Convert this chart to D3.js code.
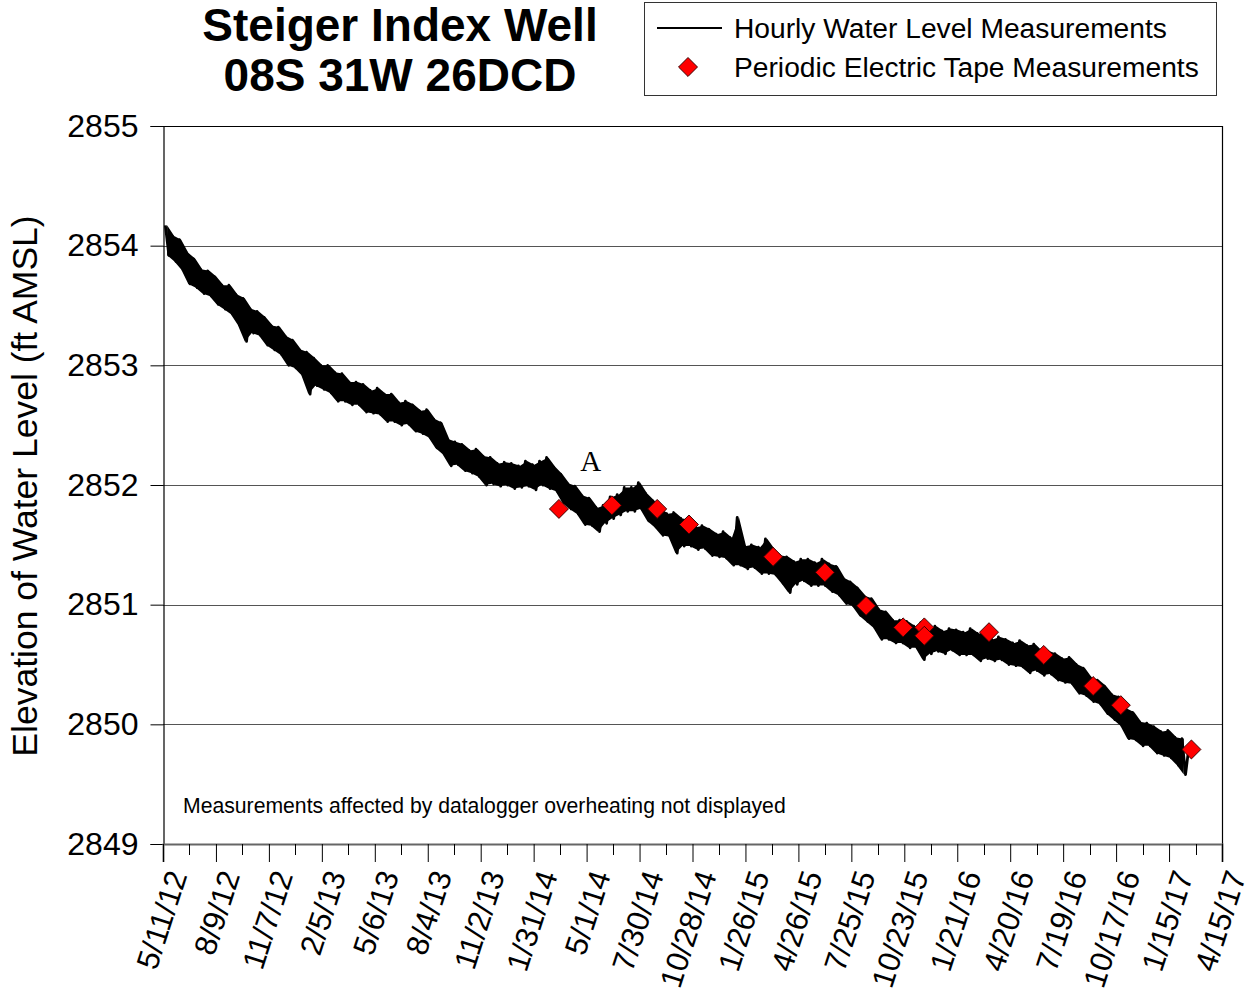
<!DOCTYPE html>
<html>
<head>
<meta charset="utf-8">
<script src="https://cdn.jsdelivr.net/npm/d3@7/dist/d3.min.js"></script>
<style>
  html, body { margin: 0; padding: 0; background: #fff; }
  svg { display: block; }
  text { font-family: "Liberation Sans", Arial, sans-serif; }
</style>
</head>
<body>
<svg id="chart" width="1253" height="997"></svg>
<script>
// ---------------- DATA ----------------
const titleLines = ["Steiger Index Well", "08S 31W 26DCD"];
const yTitle = "Elevation of Water Level (ft AMSL)";
const legendLabels = ["Hourly Water Level Measurements", "Periodic Electric Tape Measurements"];
const noteText = "Measurements affected by datalogger overheating not displayed";
const annotationText = "A";

const xTickLabels = ["5/11/12","8/9/12","11/7/12","2/5/13","5/6/13","8/4/13","11/2/13","1/31/14",
  "5/1/14","7/30/14","10/28/14","1/26/15","4/26/15","7/25/15","10/23/15","1/21/16","4/20/16",
  "7/19/16","10/17/16","1/15/17","4/15/17"];
const yTickValues = [2849, 2850, 2851, 2852, 2853, 2854, 2855];

const hourlyStart = "5/15/12";
const hourlyStepDays = 6;
const hourlyLevel = [
2854.17,2853.92,2854.08,2853.87,2854.05,2853.80,2853.94,2853.68,2853.89,2853.65,
2853.80,2853.60,2853.79,2853.58,2853.74,2853.51,2853.67,2853.47,2853.67,2853.43,
2853.59,2853.34,2853.56,2853.20,2853.47,2853.27,2853.45,2853.25,2853.40,2853.17,
2853.33,2853.13,2853.32,2853.09,2853.24,2853.00,2853.21,2852.98,2853.13,2852.92,
2853.11,2852.76,2853.06,2852.83,2853.00,2852.80,2853.00,2852.77,2852.94,2852.70,
2852.93,2852.70,2852.86,2852.67,2852.86,2852.67,2852.84,2852.61,2852.79,2852.60,
2852.81,2852.59,2852.76,2852.53,2852.76,2852.53,2852.69,2852.50,2852.70,2852.51,
2852.67,2852.45,2852.62,2852.43,2852.63,2852.40,2852.55,2852.31,2852.52,2852.26,
2852.38,2852.16,2852.36,2852.17,2852.34,2852.12,2852.29,2852.10,2852.30,2852.07,
2852.24,2852.00,2852.23,2852.01,2852.18,2851.99,2852.19,2852.00,2852.18,2851.97,
2852.16,2851.98,2852.20,2851.99,2852.17,2851.96,2852.20,2852.00,2852.23,2851.97,
2852.15,2851.95,2852.09,2851.85,2852.01,2851.80,2851.99,2851.76,2851.91,2851.67,
2851.89,2851.66,2851.81,2851.61,2851.83,2851.68,2851.90,2851.72,2851.92,2851.75,
2851.98,2851.78,2851.98,2851.78,2852.02,2851.80,2851.93,2851.70,2851.87,2851.65,
2851.80,2851.58,2851.76,2851.57,2851.77,2851.43,2851.72,2851.49,2851.71,2851.49,
2851.65,2851.46,2851.66,2851.47,2851.63,2851.41,2851.59,2851.40,2851.61,2851.39,
2851.56,2851.33,2851.73,2851.33,2851.49,2851.30,2851.50,2851.31,2851.48,2851.26,
2851.55,2851.26,2851.47,2851.25,2851.41,2851.18,2851.40,2851.10,2851.36,2851.17,
2851.38,2851.20,2851.38,2851.16,2851.35,2851.16,2851.38,2851.16,2851.34,2851.11,
2851.32,2851.08,2851.22,2851.01,2851.19,2850.99,2851.14,2850.91,2851.07,2850.86,
2851.05,2850.81,2850.96,2850.71,2850.94,2850.71,2850.87,2850.68,2850.87,2850.68,
2850.86,2850.64,2850.82,2850.64,2850.85,2850.54,2850.81,2850.59,2850.82,2850.61,
2850.78,2850.59,2850.80,2850.62,2850.79,2850.58,2850.77,2850.58,2850.80,2850.58,
2850.76,2850.53,2850.77,2850.55,2850.71,2850.53,2850.73,2850.54,2850.71,2850.50,
2850.68,2850.49,2850.70,2850.48,2850.66,2850.43,2850.67,2850.45,2850.61,2850.41,
2850.61,2850.42,2850.59,2850.37,2850.55,2850.35,2850.56,2850.34,2850.50,2850.26,
2850.47,2850.24,2850.39,2850.19,2850.37,2850.17,2850.32,2850.09,2850.25,2850.04,
2850.23,2849.99,2850.13,2849.88,2850.10,2849.87,2850.02,2849.82,2850.01,2849.82,
2849.98,2849.76,2849.94,2849.74,2849.95,2849.72,2849.89,2849.66,2849.88,2849.58,
2849.82
];

// Periodic electric tape measurements
const tapeDates = ["3/15/14","6/13/14","8/29/14","10/22/14","3/14/15","6/10/15","8/19/15",
  "10/21/15","11/26/15","11/26/15","3/15/16","6/16/16","9/8/16","10/25/16","2/22/17"];
const tapeLevels = [2851.80,2851.83,2851.80,2851.67,2851.40,2851.27,2850.99,
  2850.81,2850.81,2850.74,2850.77,2850.58,2850.32,2850.16,2849.79];

// Annotation "A" location (date, level)
const annotationDate = "5/8/14";
const annotationLevel = 2852.12;

// ---------------- CHART ----------------
const parse = d3.utcParse("%m/%d/%y");
const svg = d3.select("#chart");
const W = 1253, H = 997;
const plot = { left: 163, right: 1222, top: 126, bottom: 844 };

const xTicks = xTickLabels.map(parse);
const x = d3.scaleUtc().domain([xTicks[0], xTicks[xTicks.length - 1]]).range([plot.left, plot.right]);
const y = d3.scaleLinear().domain([2849, 2855]).range([plot.bottom, plot.top]);

svg.append("rect").attr("width", W).attr("height", H).attr("fill", "#fff");

// gridlines
svg.append("g").selectAll("line").data(yTickValues).join("line")
  .attr("x1", plot.left).attr("x2", plot.right)
  .attr("y1", d => Math.round(y(d)) + 0.5).attr("y2", d => Math.round(y(d)) + 0.5)
  .attr("stroke", d => (d === 2855 ? "#000" : "#555")).attr("stroke-width", 1);

// right border
svg.append("line").attr("x1", plot.right + 0.5).attr("x2", plot.right + 0.5)
  .attr("y1", plot.top).attr("y2", plot.bottom).attr("stroke", "#000").attr("stroke-width", 1.2);

// Y axis
const yAxis = d3.axisLeft(y).tickValues(yTickValues).tickSize(13).tickPadding(12).tickFormat(d3.format("d"));
const gy = svg.append("g").attr("transform", `translate(${plot.left + 0.5},0)`).call(yAxis);
gy.select(".domain").attr("stroke", "#000").attr("stroke-width", 1.2);
gy.selectAll(".tick line").attr("stroke", "#000");
gy.selectAll(".tick text").attr("font-size", 32).attr("fill", "#000")
  .style("font-family", "'Liberation Sans', Arial, sans-serif");

// X axis (major ticks)
const xAxis = d3.axisBottom(x).tickValues(xTicks).tickSize(18).tickFormat((d, i) => xTickLabels[i]);
const gx = svg.append("g").attr("transform", `translate(0,${plot.bottom})`).call(xAxis);
gx.select(".domain").attr("stroke", "#666").attr("stroke-width", 2);
gx.selectAll(".tick line").attr("stroke", "#000");
gx.selectAll(".tick text")
  .attr("font-size", 31).attr("fill", "#000")
  .style("font-family", "'Liberation Sans', Arial, sans-serif")
  .attr("text-anchor", "end")
  .attr("dy", null).attr("y", 0)
  .attr("transform", "translate(24,31) rotate(-72)");

// minor ticks halfway between majors
const minor = xTicks.slice(0, -1).map(d => d3.utcDay.offset(d, 45));
svg.append("g").selectAll("line").data(minor).join("line")
  .attr("x1", d => Math.round(x(d)) + 0.5).attr("x2", d => Math.round(x(d)) + 0.5)
  .attr("y1", plot.bottom).attr("y2", plot.bottom + 11)
  .attr("stroke", "#000");

// hourly record: solid band between each daily high and the following low, plus the zig-zag trace
const t0 = parse(hourlyStart);
const hourly = hourlyLevel.map((v, i) => ({ date: d3.utcDay.offset(t0, i * hourlyStepDays), value: v }));
const pairs = d3.range(0, hourly.length - 1, 2).map(i => ({
  date: d3.utcDay.offset(t0, i * hourlyStepDays + hourlyStepDays / 2),
  hi: Math.max(hourly[i].value, hourly[i + 1].value),
  lo: Math.min(hourly[i].value, hourly[i + 1].value)
}));
svg.append("path").datum(pairs)
  .attr("fill", "#000")
  .attr("d", d3.area().x(d => x(d.date)).y0(d => y(d.lo)).y1(d => y(d.hi)));
svg.append("path").datum(hourly)
  .attr("fill", "none").attr("stroke", "#000").attr("stroke-width", 2.8)
  .attr("stroke-linejoin", "round")
  .attr("d", d3.line().x(d => x(d.date)).y(d => y(d.value)));

// tape measurements
const diamond = d3.symbol().type(d3.symbolSquare).size(180);
svg.append("g").selectAll("path").data(tapeDates.map((d, i) => ({ date: parse(d), value: tapeLevels[i] })))
  .join("path")
  .attr("d", diamond)
  .attr("transform", d => `translate(${x(d.date)},${y(d.value)}) rotate(45)`)
  .attr("fill", "#ff0000").attr("stroke", "#300").attr("stroke-width", 0.9);

// annotation
svg.append("text").attr("x", x(parse(annotationDate))).attr("y", y(annotationLevel))
  .attr("font-size", 29).attr("text-anchor", "middle")
  .style("font-family", "'Liberation Serif', 'Times New Roman', serif")
  .text(annotationText);

// note
svg.append("text").attr("x", 183).attr("y", 813).attr("font-size", 21.2).attr("fill", "#000")
  .text(noteText);

// title
svg.append("g").selectAll("text").data(titleLines).join("text")
  .attr("x", 400).attr("y", (d, i) => 41 + i * 50)
  .attr("text-anchor", "middle").attr("font-size", 46).attr("font-weight", "bold")
  .text(d => d);

// y title
svg.append("text")
  .attr("transform", `translate(37,486) rotate(-90)`)
  .attr("text-anchor", "middle").attr("font-size", 35.5).text(yTitle);

// legend
const lg = svg.append("g");
lg.append("rect").attr("x", 644.5).attr("y", 2.5).attr("width", 572).attr("height", 93)
  .attr("fill", "#fff").attr("stroke", "#333").attr("stroke-width", 1);
lg.append("line").attr("x1", 657).attr("x2", 722).attr("y1", 28).attr("y2", 28)
  .attr("stroke", "#000").attr("stroke-width", 2);
lg.append("path").attr("d", diamond)
  .attr("transform", "translate(688,67) rotate(45)")
  .attr("fill", "#ff0000").attr("stroke", "#300").attr("stroke-width", 0.9);
lg.selectAll("text.lt").data(legendLabels).join("text").attr("class", "lt")
  .attr("x", 734).attr("y", (d, i) => 38 + i * 39)
  .attr("font-size", 28.2).text(d => d);
</script>
</body>
</html>
